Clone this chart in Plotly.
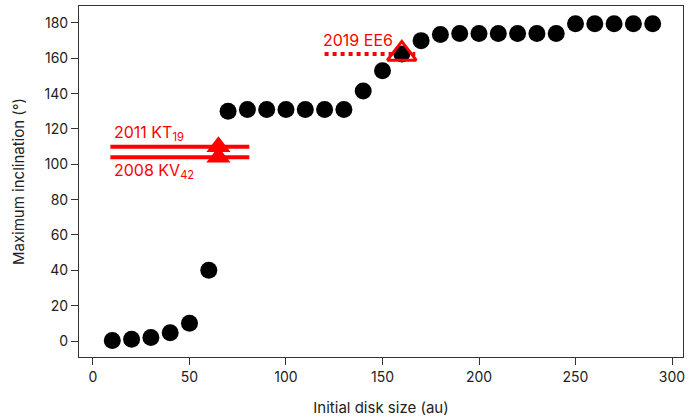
import plotly.graph_objects as go

disk_size = [10, 20, 30, 40, 50, 60, 70, 80, 90, 100, 110, 120, 130, 140, 150,
             160, 170, 180, 190, 200, 210, 220, 230, 240, 250, 260, 270, 280, 290]
max_incl = [0.3, 1, 2, 4.7, 10, 40, 130, 131, 131, 131, 131, 131, 131, 141.5, 153,
            162.5, 170, 173.5, 174, 174, 174, 174, 174, 174, 179.5, 179.5, 179.5, 179.5, 179.5]

kt19_incl = 110
kv42_incl = 104
ee6_incl = 162.5
obj_line_x = [9, 81]
ee6_line_x = [120, 167]
tri_x = [65, 65]
tri_y = [kt19_incl, kv42_incl]
ee6_x = [160]

RED = "#ff0000"
FONT = "Inter"

fig = go.Figure()

fig.add_trace(go.Scatter(x=obj_line_x, y=[kt19_incl, kt19_incl], mode="lines",
                         line=dict(color=RED, width=4), showlegend=False))
fig.add_trace(go.Scatter(x=obj_line_x, y=[kv42_incl, kv42_incl], mode="lines",
                         line=dict(color=RED, width=4), showlegend=False))
fig.add_trace(go.Scatter(x=ee6_line_x, y=[ee6_incl, ee6_incl], mode="lines",
                         line=dict(color=RED, width=4, dash="dot"), showlegend=False))

fig.add_trace(go.Scatter(x=disk_size, y=max_incl, mode="markers",
                         marker=dict(color="black", size=17, line=dict(width=0)),
                         showlegend=False))

fig.add_trace(go.Scatter(x=tri_x, y=tri_y, mode="markers",
                         marker=dict(symbol="triangle-up", color=RED, size=21, line=dict(width=0)),
                         showlegend=False))
fig.add_trace(go.Scatter(x=ee6_x, y=[ee6_incl], mode="markers",
                         marker=dict(symbol="triangle-up-open", color=RED, size=25,
                                     line=dict(color=RED, width=3)),
                         showlegend=False))

fig.add_annotation(x=10, y=118, text="2011 KT<sub>19</sub>", showarrow=False,
                   xanchor="left", yanchor="middle", font=dict(color=RED, size=16, family=FONT))
fig.add_annotation(x=10, y=96, text="2008 KV<sub>42</sub>", showarrow=False,
                   xanchor="left", yanchor="middle", font=dict(color=RED, size=16, family=FONT))
fig.add_annotation(x=118, y=170.5, text="2019 EE6", showarrow=False,
                   xanchor="left", yanchor="middle", font=dict(color=RED, size=16, family=FONT))

axis_common = dict(showgrid=False, zeroline=False, showline=True, linecolor="#333333",
                   linewidth=1, mirror=True, ticks="outside", ticklen=7, tickcolor="#333333",
                   tickfont=dict(size=14, color="#222222", family=FONT), automargin=False)

fig.update_xaxes(range=[-7.25, 305.7], tickvals=[0, 50, 100, 150, 200, 250, 300],
                 title=dict(text="Initial disk size (au)", font=dict(size=15, color="#222222", family=FONT),
                            standoff=18),
                 **axis_common)
fig.update_yaxes(range=[-9.05, 189.6], tickvals=list(range(0, 181, 20)),
                 title=dict(text="Maximum inclination (°)", font=dict(size=15, color="#222222", family=FONT),
                            standoff=16),
                 **axis_common)

fig.update_layout(width=688, height=419, margin=dict(l=79, r=5, t=6, b=62),
                  plot_bgcolor="white", paper_bgcolor="white")

fig.write_html("out.html", config={"displayModeBar": False},
               post_script="document.body.style.margin='0';")
